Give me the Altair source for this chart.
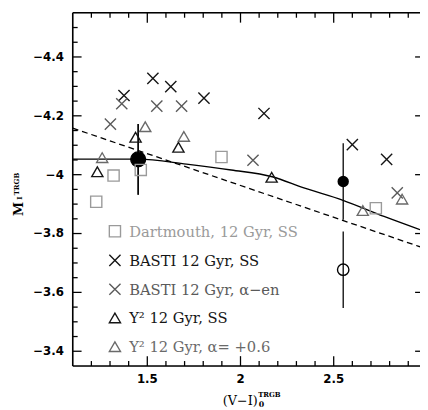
import altair as alt
import pandas as pd

# ---------------- data ----------------
labels = ["Dartmouth, 12 Gyr, SS", "BASTI 12 Gyr, SS", "BASTI 12 Gyr, α−en",
          "Y² 12 Gyr, SS", "Y² 12 Gyr, α= +0.6"]

dart_x = [1.226, 1.319, 1.465, 1.898, 2.726]
dart_y = [-3.908, -3.997, -4.016, -4.060, -3.886]
basti_ss_x = [1.375, 1.530, 1.626, 1.804, 2.126, 2.600, 2.784]
basti_ss_y = [-4.269, -4.327, -4.299, -4.260, -4.208, -4.102, -4.052]
basti_a_x = [1.302, 1.363, 1.551, 1.684, 2.067, 2.841]
basti_a_y = [-4.172, -4.241, -4.233, -4.233, -4.049, -3.938]
y2_ss_x = [1.232, 1.437, 1.667, 2.167]
y2_ss_y = [-4.010, -4.127, -4.093, -3.991]
y2_a_x = [1.258, 1.489, 1.696, 2.656, 2.867]
y2_a_y = [-4.058, -4.163, -4.130, -3.878, -3.917]

filled_x = [1.451, 2.551]
filled_y = [-4.052, -3.977]
filled_err = [0.12, 0.13]
open_x = [1.451, 2.551]
open_y = [-4.052, -3.677]
open_err = [0.12, 0.13]

curve_x = [1.10, 1.45, 1.71, 1.95, 2.17, 2.34, 2.55, 2.77, 2.963]
curve_y = [-4.053, -4.053, -4.036, -4.016, -3.993, -3.955, -3.913, -3.858, -3.813]
dash_x = [1.10, 2.963]
dash_y = [-4.158, -3.755]

xt_major = [1.5, 2.0, 2.5]
xt_minor = [1.2, 1.3, 1.4, 1.6, 1.7, 1.8, 1.9, 2.1, 2.2, 2.3, 2.4, 2.6, 2.7, 2.8, 2.9]
yt_major = [-4.4, -4.2, -4.0, -3.8, -3.6, -3.4]
yt_minor = [-4.5, -4.45, -4.35, -4.3, -4.25, -4.15, -4.1, -4.05, -3.95, -3.9,
            -3.85, -3.75, -3.7, -3.65, -3.55, -3.5, -3.45]

# ---------------- tables ----------------
series = [(labels[0], dart_x, dart_y), (labels[1], basti_ss_x, basti_ss_y),
          (labels[2], basti_a_x, basti_a_y), (labels[3], y2_ss_x, y2_ss_y),
          (labels[4], y2_a_x, y2_a_y)]
pts = pd.concat([pd.DataFrame({"s": s, "x": xs, "y": ys}) for s, xs, ys in series])
curve = pd.DataFrame({"x": curve_x, "y": curve_y})
dash = pd.DataFrame({"x": dash_x, "y": dash_y})
filled = pd.DataFrame({"x": filled_x, "y": filled_y,
                       "lo": [a - e for a, e in zip(filled_y, filled_err)],
                       "hi": [a + e for a, e in zip(filled_y, filled_err)]})
opened = pd.DataFrame({"x": open_x, "y": open_y,
                       "lo": [a - e for a, e in zip(open_y, open_err)],
                       "hi": [a + e for a, e in zip(open_y, open_err)]})
leg = pd.DataFrame({"s": labels})
one = pd.DataFrame({"a": [0]})

W, H = 354, 360
XDOM = [1.1, 2.963]
YDOM = [-4.55, -3.35]

xs = alt.Scale(domain=XDOM, nice=False, zero=False)
ys = alt.Scale(domain=YDOM, nice=False, zero=False, reverse=True)

X = alt.X("x:Q", scale=xs, axis=None)
Y = alt.Y("y:Q", scale=ys, axis=None)

xpath = "M-1,-1L1,1M-1,1L1,-1"
shape_scale = alt.Scale(domain=labels, range=["square", xpath, xpath, "triangle-up", "triangle-up"])
color_scale = alt.Scale(domain=labels, range=["#9a9a9a", "#151515", "#5a5a5a", "#151515", "#6a6a6a"])

dashed = alt.Chart(dash).mark_line(color="black", strokeWidth=1.3,
                                   strokeDash=[6, 4], clip=True).encode(x=X, y=Y)
solid = alt.Chart(curve).mark_line(color="black", strokeWidth=1.4, interpolate="monotone",
                                   clip=True).encode(x=X, y=Y)

scatter = alt.Chart(pts).mark_point(filled=False, strokeWidth=1.4, size=130, opacity=1).encode(
    x=X, y=Y,
    shape=alt.Shape("s:N", scale=shape_scale, legend=None),
    color=alt.Color("s:N", scale=color_scale, legend=None))

err_f = alt.Chart(filled).mark_rule(color="black", strokeWidth=1.3).encode(
    x=X, y=alt.Y("lo:Q", scale=ys, axis=None), y2="hi:Q")
err_o = alt.Chart(opened).mark_rule(color="black", strokeWidth=1.3).encode(
    x=X, y=alt.Y("lo:Q", scale=ys, axis=None), y2="hi:Q")

big_sizes = alt.Scale(domain=filled_x, range=[230, 135])
ring_sizes = alt.Scale(domain=open_x, range=[480, 135])
f_dots = alt.Chart(filled).mark_circle(color="black", opacity=1).encode(
    x=X, y=Y, size=alt.Size("x:O", scale=big_sizes, legend=None))
o_dots = alt.Chart(opened).mark_point(shape="circle", filled=False, color="black",
                                      strokeWidth=1.4, opacity=1).encode(
    x=X, y=Y, size=alt.Size("x:O", scale=ring_sizes, legend=None))

# frame, inward ticks and tick labels
tk = dict(color="black", strokeWidth=1.3)
fr = dict(color="black", strokeWidth=1.6)
xmaj = pd.DataFrame({"x": xt_major})
xmin = pd.DataFrame({"x": xt_minor})
ymaj = pd.DataFrame({"y": yt_major})
ymin = pd.DataFrame({"y": yt_minor})
frame = [
    alt.Chart(one).mark_rule(**fr).encode(x=alt.value(0), x2=alt.value(W), y=alt.value(0)),
    alt.Chart(one).mark_rule(**fr).encode(x=alt.value(0), x2=alt.value(W), y=alt.value(H)),
    alt.Chart(one).mark_rule(**fr).encode(x=alt.value(0), y=alt.value(0), y2=alt.value(H)),
]
ticks = [
    alt.Chart(xmaj).mark_rule(**tk).encode(x=X, y=alt.value(H), y2=alt.value(H - 10)),
    alt.Chart(xmin).mark_rule(**tk).encode(x=X, y=alt.value(H), y2=alt.value(H - 5)),
    alt.Chart(xmaj).mark_rule(**tk).encode(x=X, y=alt.value(0), y2=alt.value(10)),
    alt.Chart(xmin).mark_rule(**tk).encode(x=X, y=alt.value(0), y2=alt.value(5)),
    alt.Chart(ymaj).mark_rule(**tk).encode(y=Y, x=alt.value(0), x2=alt.value(9)),
    alt.Chart(ymin).mark_rule(**tk).encode(y=Y, x=alt.value(0), x2=alt.value(5)),
    alt.Chart(ymaj).mark_rule(**tk).encode(y=Y, x=alt.value(W - 5), x2=alt.value(W)),
]
lbl = dict(font="DejaVu Sans", fontWeight="bold", fontSize=12, color="black")
tick_labels = [
    alt.Chart(xmaj).mark_text(align="center", baseline="top", **lbl).encode(
        x=X, y=alt.value(H + 8), text=alt.Text("x:Q", format="~g")),
    alt.Chart(ymaj).mark_text(align="right", baseline="middle", **lbl).encode(
        y=Y, x=alt.value(-9), text=alt.Text("y:Q", format="~g")),
]

serif = "DejaVu Serif"
titles = [
    alt.Chart(one).mark_text(text="(V−I)", font=serif, fontSize=13, align="right",
                             baseline="alphabetic", color="black").encode(x=alt.value(188.5), y=alt.value(400)),
    alt.Chart(one).mark_text(text="TRGB", font=serif, fontSize=7, fontWeight="bold", align="left",
                             baseline="alphabetic", color="black").encode(x=alt.value(189), y=alt.value(391.5)),
    alt.Chart(one).mark_text(text="0", font=serif, fontSize=8, fontWeight="bold", align="left",
                             baseline="alphabetic", color="black").encode(x=alt.value(189.5), y=alt.value(401.5)),
    alt.Chart(one).mark_text(text="M", font=serif, fontSize=13, fontWeight="bold", align="center", angle=270,
                             baseline="alphabetic", color="black").encode(x=alt.value(-51), y=alt.value(200)),
    alt.Chart(one).mark_text(text="TRGB", font=serif, fontSize=7, fontWeight="bold", align="center", angle=270,
                             baseline="alphabetic", color="black").encode(x=alt.value(-55), y=alt.value(174.5)),
    alt.Chart(one).mark_text(text="I", font=serif, fontSize=7, fontWeight="bold", align="center", angle=270,
                             baseline="alphabetic", color="black").encode(x=alt.value(-51.5), y=alt.value(189)),
]

# legend: one row per series, rows placed at fixed pixel offsets inside the plot
row_y = [222.7, 252.3, 281.8, 311.0, 340.3]
legend_layers = []
for lab, ry in zip(labels, row_y):
    base = alt.Chart(leg).transform_filter(alt.datum.s == lab)
    legend_layers.append(base.mark_point(filled=False, strokeWidth=1.4, size=130, opacity=1).encode(
        x=alt.value(43), y=alt.value(ry),
        shape=alt.Shape("s:N", scale=shape_scale, legend=None),
        color=alt.Color("s:N", scale=color_scale, legend=None)))
    legend_layers.append(base.mark_text(font=serif, fontSize=15, align="left",
                                        baseline="middle").encode(
        x=alt.value(57.5), y=alt.value(ry + 0.5), text="s:N",
        color=alt.Color("s:N", scale=color_scale, legend=None)))

chart = alt.layer(dashed, solid, err_f, err_o, f_dots, o_dots, scatter,
                  *frame, *ticks, *tick_labels, *titles, *legend_layers).properties(
    width=W, height=H,
    autosize=alt.AutoSizeParams(type="none"),
    padding={"left": 66, "top": 1, "right": 0, "bottom": 42},
).configure_view(stroke=None).configure(background="white")

chart.save("out.html", embed_options={"renderer": "svg", "actions": False})
